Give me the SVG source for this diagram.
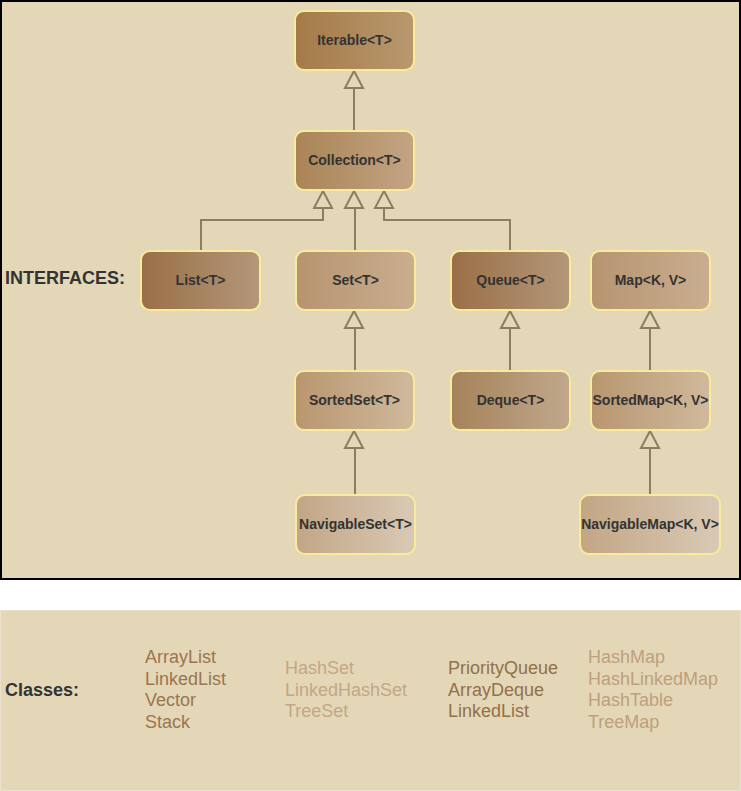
<svg xmlns="http://www.w3.org/2000/svg" width="741" height="791" viewBox="0 0 741 791">
<defs>
<linearGradient id="g1" x1="0" x2="1" y1="0" y2="0"><stop offset="0" stop-color="#a47a48"/><stop offset="1" stop-color="#b9986f"/></linearGradient>
<linearGradient id="g2" x1="0" x2="1" y1="0" y2="0"><stop offset="0" stop-color="#a98456"/><stop offset="1" stop-color="#c3a483"/></linearGradient>
<linearGradient id="g3" x1="0" x2="1" y1="0" y2="0"><stop offset="0" stop-color="#9a6f47"/><stop offset="1" stop-color="#b39779"/></linearGradient>
<linearGradient id="g4" x1="0" x2="1" y1="0" y2="0"><stop offset="0" stop-color="#b69470"/><stop offset="1" stop-color="#c9ae8f"/></linearGradient>
<linearGradient id="g5" x1="0" x2="1" y1="0" y2="0"><stop offset="0" stop-color="#b8966f"/><stop offset="1" stop-color="#d0b99c"/></linearGradient>
<linearGradient id="g6" x1="0" x2="1" y1="0" y2="0"><stop offset="0" stop-color="#a5825a"/><stop offset="1" stop-color="#c1a88c"/></linearGradient>
<linearGradient id="g7" x1="0" x2="1" y1="0" y2="0"><stop offset="0" stop-color="#c2a685"/><stop offset="1" stop-color="#d9c9b5"/></linearGradient>
</defs>
<style>
.node rect{stroke:#f8ec9c;stroke-width:2}
.node text{font-family:"Liberation Sans",Arial,sans-serif;font-size:14px;font-weight:bold;fill:#333;text-anchor:middle}
.conn path{fill:none;stroke:#8a7e60;stroke-width:2}
.conn polygon{fill:#e3d7b7;stroke:#8a7e60;stroke-width:2}
.lbl{font-family:"Liberation Sans",Arial,sans-serif;font-weight:bold;fill:#333;font-size:18px}
.cls{font-family:"Liberation Sans",Arial,sans-serif;font-size:18px}
</style>
<rect x="0" y="0" width="741" height="791" fill="#ffffff"/>
<rect x="1" y="1" width="739" height="578" fill="#e3d7b7" stroke="#000" stroke-width="2"/>
<rect x="0.5" y="610.5" width="740" height="180" fill="#e3d7b7" stroke="#ebe2cc" stroke-width="1"/>

<g class="conn">
<path d="M354 130 V88"/><polygon points="354,71 345,88 363,88"/>
<path d="M201 250 V220 H323 V208"/><polygon points="323,191 314,208 332,208"/>
<path d="M355 250 V208"/><polygon points="354,191 345,208 363,208"/>
<path d="M510 250 V220 H384 V208"/><polygon points="384,191 375,208 393,208"/>
<path d="M355 370 V328"/><polygon points="354,311 345,328 363,328"/>
<path d="M510 370 V328"/><polygon points="510,311 501,328 519,328"/>
<path d="M650 370 V328"/><polygon points="650,311 641,328 659,328"/>
<path d="M355 494 V448"/><polygon points="354,431 345,448 363,448"/>
<path d="M650 494 V448"/><polygon points="650,431 641,448 659,448"/>
</g>

<g id="iterable" class="node"><rect x="295" y="11" width="119" height="59" rx="9" fill="url(#g1)"/><text x="354.5" y="45">Iterable&lt;T&gt;</text></g>
<g id="collection" class="node"><rect x="295" y="131" width="119" height="59" rx="9" fill="url(#g2)"/><text x="354.5" y="165">Collection&lt;T&gt;</text></g>
<g id="list" class="node"><rect x="141" y="251" width="119" height="59" rx="9" fill="url(#g3)"/><text x="200.5" y="285">List&lt;T&gt;</text></g>
<g id="set" class="node"><rect x="296" y="251" width="119" height="59" rx="9" fill="url(#g4)"/><text x="355.5" y="285">Set&lt;T&gt;</text></g>
<g id="queue" class="node"><rect x="451" y="251" width="119" height="59" rx="9" fill="url(#g3)"/><text x="510.5" y="285">Queue&lt;T&gt;</text></g>
<g id="map" class="node"><rect x="591" y="251" width="119" height="59" rx="9" fill="url(#g4)"/><text x="650.5" y="285">Map&lt;K, V&gt;</text></g>
<g id="sortedset" class="node"><rect x="295" y="371" width="119" height="59" rx="9" fill="url(#g5)"/><text x="354.5" y="405">SortedSet&lt;T&gt;</text></g>
<g id="deque" class="node"><rect x="451" y="371" width="119" height="59" rx="9" fill="url(#g6)"/><text x="510.5" y="405">Deque&lt;T&gt;</text></g>
<g id="sortedmap" class="node"><rect x="591" y="371" width="119" height="59" rx="9" fill="url(#g5)"/><text x="650.5" y="405">SortedMap&lt;K, V&gt;</text></g>
<g id="navigableset" class="node"><rect x="296" y="495" width="119" height="59" rx="9" fill="url(#g7)"/><text x="355.5" y="529">NavigableSet&lt;T&gt;</text></g>
<g id="navigablemap" class="node"><rect x="580" y="495" width="140" height="59" rx="9" fill="url(#g7)"/><text x="650" y="529">NavigableMap&lt;K, V&gt;</text></g>

<text class="lbl" x="5" y="284">INTERFACES:</text>
<text class="lbl" x="5" y="696">Classes:</text>

<g class="cls" fill="#9c7450">
<text x="145" y="663">ArrayList</text><text x="145" y="684.5">LinkedList</text><text x="145" y="706">Vector</text><text x="145" y="727.5">Stack</text>
</g>
<g class="cls" fill="#c4a686">
<text x="285" y="674">HashSet</text><text x="285" y="695.5">LinkedHashSet</text><text x="285" y="717">TreeSet</text>
</g>
<g class="cls" fill="#94704a">
<text x="448" y="674">PriorityQueue</text><text x="448" y="695.5">ArrayDeque</text><text x="448" y="717">LinkedList</text>
</g>
<g class="cls" fill="#bf9f7d">
<text x="588" y="663">HashMap</text><text x="588" y="684.5">HashLinkedMap</text><text x="588" y="706">HashTable</text><text x="588" y="727.5">TreeMap</text>
</g>
</svg>
